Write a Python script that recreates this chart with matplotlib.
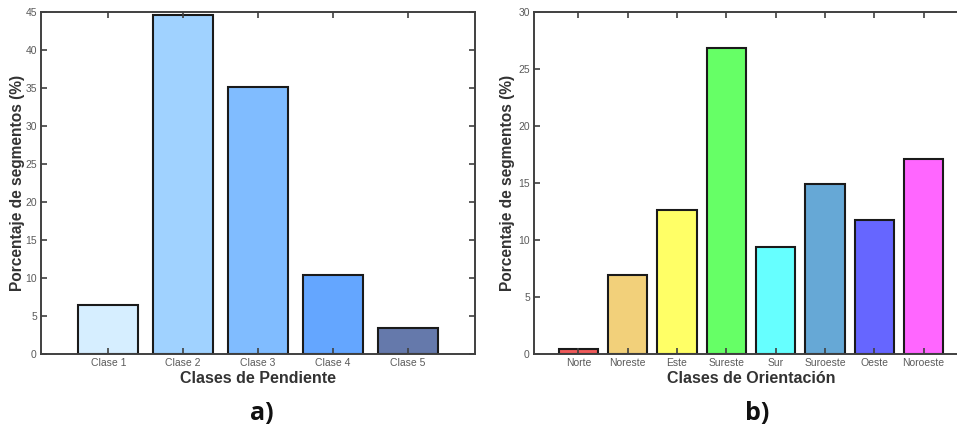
import matplotlib.pyplot as plt
import numpy as np

plt.rcParams['font.family'] = ['Liberation Sans', 'DejaVu Sans']

# data
pend_labels = ['Clase 1', 'Clase 2', 'Clase 3', 'Clase 4', 'Clase 5']
pend_values = [6.44, 44.57, 35.19, 10.43, 3.37]
pend_colors = ['#d6eeff', '#a0d2ff', '#80bcff', '#64a6ff', '#6579ab']

orient_labels = ['Norte', 'Noreste', 'Este', 'Sureste', 'Sur',
                 'Suroeste', 'Oeste', 'Noroeste']
orient_values = [0.44, 6.89, 12.65, 26.87, 9.40, 14.89, 11.74, 17.08]
orient_colors = ['#f05a5a', '#f2d07a', '#ffff66', '#66ff66', '#66ffff',
                 '#66a8d6', '#6666ff', '#ff66ff']

W, H = 957, 434
fig = plt.figure(figsize=(W / 100, H / 100), dpi=100)

spine_col = '#404040'
label_col = '#333333'


def px_axes(x0, x1, y0, y1):
    return fig.add_axes([x0 / W, 1 - y1 / H, (x1 - x0) / W, (y1 - y0) / H])


def style(ax, labels, values, colors, ymax, yticks, xlabel):
    x = np.arange(1, len(labels) + 1)
    ax.bar(x, values, width=0.8, color=colors, edgecolor='#1a1a1a',
           linewidth=1.5, zorder=1)
    ax.set_xlim(0.1, len(labels) + 0.9)
    ax.set_ylim(0, ymax)
    ax.set_xticks(x)
    ax.set_xticklabels(labels)
    ax.set_yticks(yticks)
    ax.set_axisbelow(False)
    ax.tick_params(direction='in', top=True, right=True, length=4,
                   width=1.2, color=spine_col, labelsize=7.5,
                   labelcolor='#5a5a5a', pad=3)
    for s in ax.spines.values():
        s.set_color(spine_col)
        s.set_linewidth(1.4)
        s.set_zorder(3)
    ax.set_xlabel(xlabel, fontsize=11.5, fontweight='bold', color=label_col,
                  labelpad=2)
    ax.set_ylabel('Porcentaje de segmentos (%)', fontsize=11.2,
                  fontweight='bold', color=label_col)


ax1 = px_axes(41, 475, 12, 354)
style(ax1, pend_labels, pend_values, pend_colors, 45,
      np.arange(0, 46, 5), 'Clases de Pendiente')
ax1.yaxis.set_label_coords(-16 / 434, 0.5)

ax2 = px_axes(534, 968, 12, 354)
style(ax2, orient_labels, orient_values, orient_colors, 30,
      np.arange(0, 31, 5), 'Clases de Orientación')
ax2.yaxis.set_label_coords(-19 / 434, 0.5)

fig.text(262 / W, 1 - 414 / H, 'a)', fontsize=18, fontweight='bold',
         family='Open Sans', ha='center', va='center', color='#111111')
fig.text(757 / W, 1 - 414 / H, 'b)', fontsize=18, fontweight='bold',
         family='Open Sans', ha='center', va='center', color='#111111')

fig.savefig('out.png', dpi=100)
